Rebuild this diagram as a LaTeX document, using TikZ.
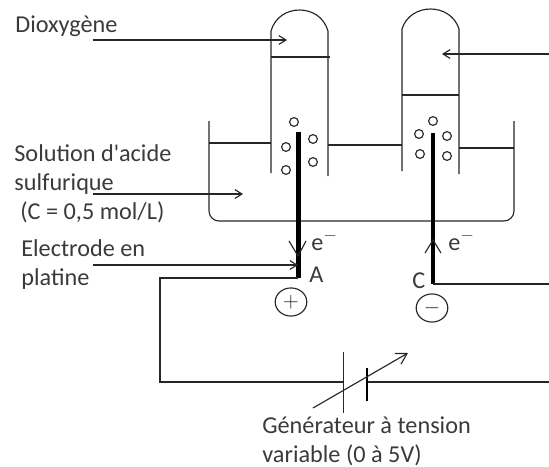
\documentclass[tikz,border=0pt]{standalone}
\usepackage{fontspec}
\setmainfont{Carlito}
\usepackage{xcolor,amsmath}
\usetikzlibrary{arrows.meta,shapes.geometric}
\definecolor{ink}{HTML}{262626}
\definecolor{txt}{HTML}{3a3a3a}
\tikzset{
    line/.style={draw=ink, line width=0.65pt},
    pointer/.style={line, -{Straight Barb[length=4pt,width=5pt]}},
    electrode/.style={draw=black, line width=2.3pt},
    bubble/.style={circle, draw=ink, line width=0.65pt, fill=white, inner sep=0, minimum size=5pt},
    label/.style={anchor=base west, inner sep=0, text=txt, font=\fontsize{13.8}{16}\selectfont},
    sign/.style={ellipse, draw=ink, line width=0.65pt, inner sep=0, minimum width=18pt, minimum height=16pt, text=ink, font=\fontsize{13}{15}\selectfont}
}

\begin{document}
\begin{tikzpicture}[x=0.02cm, y=-0.02cm]
    \useasboundingbox (0, 0) rectangle (549, 467);
    % beaker and liquid
    \draw[line, rounded corners=0.2cm] (209, 121) -- (209, 221) -- (514, 221) -- (514, 121);
    \draw[line] (209, 143) -- (271, 143);
    \draw[line] (328, 145) -- (402, 145);
    \draw[line] (459, 148) -- (514, 148);
    % tubes
    \draw[line] (271, 173) -- (271, 31) .. controls (275, 17) and (287, 10) .. (299.5, 10) .. controls (312, 10) and (324, 17) .. (328, 31) -- (328, 176);
    \draw[line] (271, 57) -- (330, 57);
    \draw[line] (402, 171) -- (402, 29) .. controls (406, 16) and (418, 9) .. (430.5, 9) .. controls (443, 9) and (455, 16) .. (459, 29) -- (459, 174);
    \draw[line] (402, 95) -- (459, 95);
    % bubbles
    \node[bubble] (a1) at (294, 122) {};
    \node[bubble] (a2) at (313, 139) {};
    \node[bubble] (a3) at (286, 147) {};
    \node[bubble] (a4) at (313, 162) {};
    \node[bubble] (a5) at (286, 170) {};
    \node[bubble] (c1) at (433, 121) {};
    \node[bubble] (c2) at (419, 134) {};
    \node[bubble] (c3) at (447, 136) {};
    \node[bubble] (c4) at (420, 154) {};
    \node[bubble] (c5) at (447, 156) {};
    % electrodes and circuit
    \coordinate (atop) at (298.5, 132);
    \coordinate (abot) at (298.5, 278);
    \coordinate (ctop) at (433, 133);
    \coordinate (cbot) at (433, 284);
    \coordinate (corner) at (160, 278);
    \coordinate (wirel) at (160, 382);
    \coordinate (plus) at (343.5, 382);
    \coordinate (minus) at (367, 382);
    \coordinate (wirer) at (549, 382);
    \coordinate (wirec) at (549, 284);
    \draw[electrode] (atop) -- (abot);
    \draw[electrode] (ctop) -- (cbot);
    \draw[line] (abot) -- (corner) -- (wirel) -- (plus);
    \draw[line] (minus) -- (wirer);
    \draw[line] (cbot) -- (wirec);
    % generator
    \draw[line] (343.5, 352) -- (343.5, 413);
    \draw[electrode, line width=1.7pt] (367, 368) -- (367, 401);
    \coordinate (varfrom) at (313, 408);
    \coordinate (varto) at (408, 353);
    \draw[pointer, -{Straight Barb[length=6pt,width=7pt]}] (varfrom) -- (varto);
    % current arrows
    \draw[line] (289, 241) -- (298, 256) -- (306, 241);
    \draw[line] (425, 253) -- (433, 240) -- (441, 253);
    % labels
    \node[label] (dioxygene) at (15, 32) {Dioxygène};
    \node[label] (solution) at (14, 161) {Solution d\textquotesingle acide};
    \node[label] (sulfurique) at (14, 190) {sulfurique};
    \node[label] (conc) at (20, 219) {(C = 0,5 mol/L)};
    \node[label] (electrodeen) at (21, 256) {Electrode en};
    \node[label] (platine) at (21, 285) {platine};
    \node[label] (eleft) at (311, 250) {e$^{-}$};
    \node[label] (eright) at (448, 250) {e$^{-}$};
    \node[label] (labela) at (309, 282) {A};
    \node[label] (labelc) at (412, 288) {C};
    \node[sign] (pluscirc) at (291, 302) {$+$};
    \node[sign] (minuscirc) at (432, 308) {$-$};
    \node[label] (gen) at (262, 433) {Générateur à tension};
    \node[label] (var) at (262, 462) {variable (0 à 5V)};
    % pointers
    \coordinate (o2from) at (93, 40);
    \coordinate (o2to) at (287, 40);
    \coordinate (h2from) at (549, 54);
    \coordinate (h2to) at (442, 54);
    \coordinate (solfrom) at (93, 194);
    \coordinate (solto) at (243, 194);
    \coordinate (ptfrom) at (93, 265);
    \coordinate (ptto) at (298, 265);
    \draw[pointer] (o2from) -- (o2to);
    \draw[pointer] (h2from) -- (h2to);
    \draw[pointer] (solfrom) -- (solto);
    \draw[pointer] (ptfrom) -- (ptto);
\end{tikzpicture}
\end{document}
